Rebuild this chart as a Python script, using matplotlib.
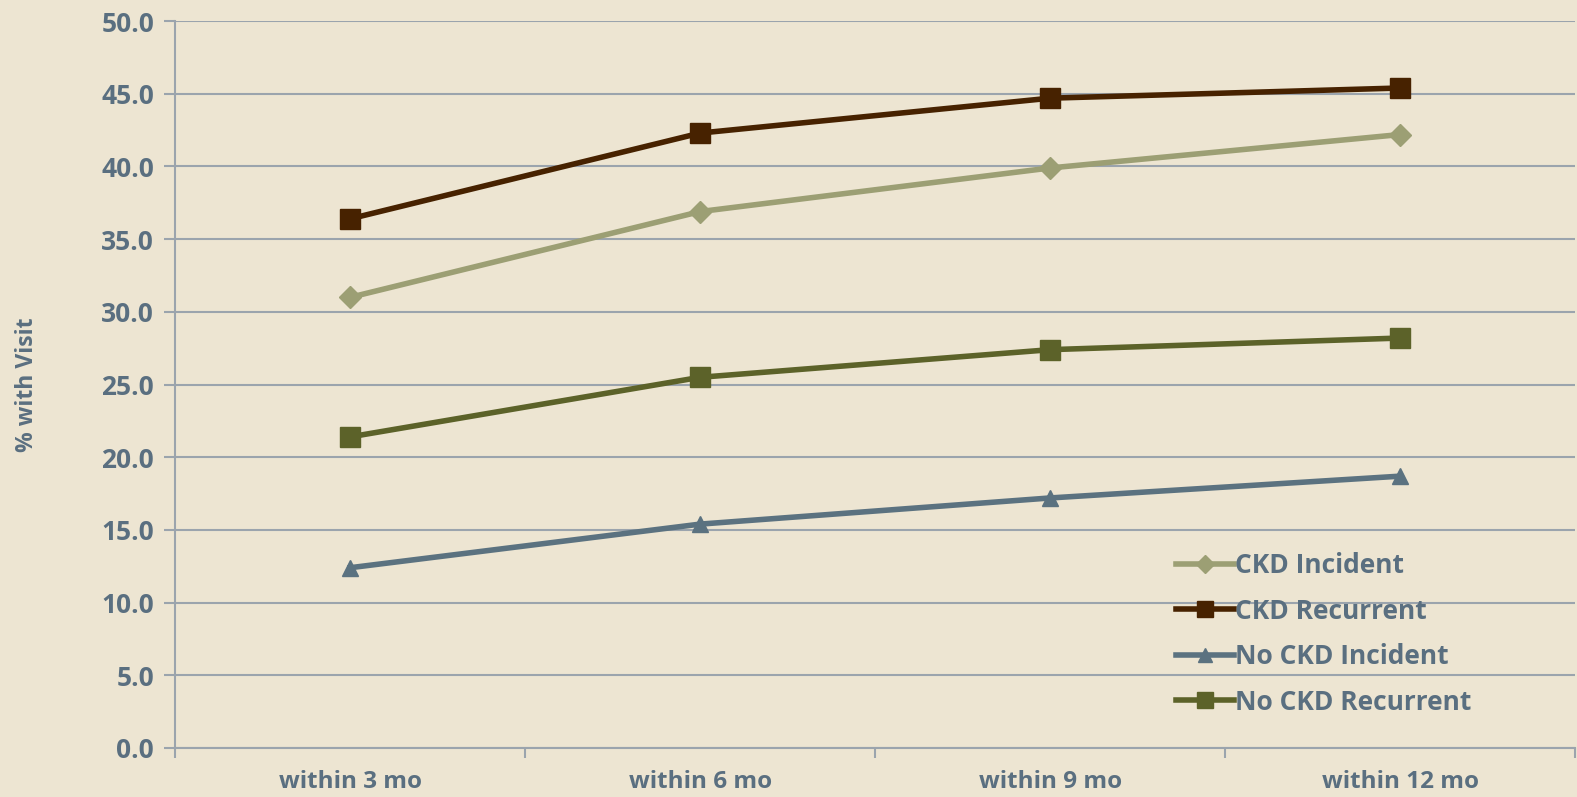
import matplotlib
matplotlib.use('Agg')
import matplotlib.pyplot as plt
import numpy as np

# Tỷ lệ bệnh nhân có lượt khám theo thời gian
categories = ['within 3 mo', 'within 6 mo', 'within 9 mo', 'within 12 mo']
ckd_incident = [31.0, 36.9, 39.9, 42.2]
ckd_recurrent = [36.4, 42.3, 44.7, 45.4]
no_ckd_incident = [12.4, 15.4, 17.2, 18.7]
no_ckd_recurrent = [21.4, 25.5, 27.4, 28.2]

bg = '#EDE5D2'
text_color = '#5A6F80'
grid_color = '#9BA4AD'

plt.rcParams['font.family'] = ['Open Sans', 'DejaVu Sans']
plt.rcParams['font.weight'] = 'bold'
plt.rcParams['axes.labelweight'] = 'bold'

fig = plt.figure(figsize=(15.77, 7.97), dpi=100)
fig.patch.set_facecolor(bg)
ax = fig.add_axes([0.111, 0.0615, 0.888, 0.912])
ax.set_facecolor(bg)

x = np.arange(len(categories))

ax.plot(x, ckd_incident, color='#9C9F74', lw=4, marker='D', ms=11,
        label='CKD Incident', zorder=3)
ax.plot(x, ckd_recurrent, color='#472200', lw=4, marker='s', ms=14,
        label='CKD Recurrent', zorder=3)
ax.plot(x, no_ckd_incident, color='#5B7280', lw=4, marker='^', ms=12,
        label='No CKD Incident', zorder=3)
ax.plot(x, no_ckd_recurrent, color='#5C6229', lw=4, marker='s', ms=14,
        label='No CKD Recurrent', zorder=3)

ax.set_xlim(-0.5, len(categories) - 0.5)
ax.set_ylim(0, 50)
ax.set_yticks(np.arange(0, 50.1, 5))
ax.set_yticklabels([f'{v:.1f}' for v in np.arange(0, 50.1, 5)])
ax.yaxis.grid(True, color=grid_color, lw=1.5)
ax.set_axisbelow(True)

ax.set_xticks(x)
ax.set_xticklabels(categories)
ax.set_xticks(np.arange(-0.5, len(categories)), minor=True)
ax.tick_params(axis='x', which='major', length=0, pad=16,
               labelsize=17.5, labelcolor=text_color)
ax.tick_params(axis='x', which='minor', length=7, width=1.5, color=grid_color)
ax.tick_params(axis='y', length=8, width=1.5, color=grid_color, pad=7,
               labelsize=19, labelcolor=text_color)

for side in ['top', 'right']:
    ax.spines[side].set_visible(False)
for side in ['left', 'bottom']:
    ax.spines[side].set_color(grid_color)
    ax.spines[side].set_linewidth(1.5)

ax.set_ylabel('% with Visit', fontsize=16.5, color=text_color)
ax.yaxis.set_label_coords(-0.097, 0.5)

ax.legend(loc='lower right', bbox_to_anchor=(0.943, 0.012), frameon=False,
          fontsize=19, labelcolor=text_color, handlelength=2.2,
          handletextpad=0.05, labelspacing=0.7, markerscale=0.85)

fig.savefig('out.png', dpi=100, facecolor=bg)
